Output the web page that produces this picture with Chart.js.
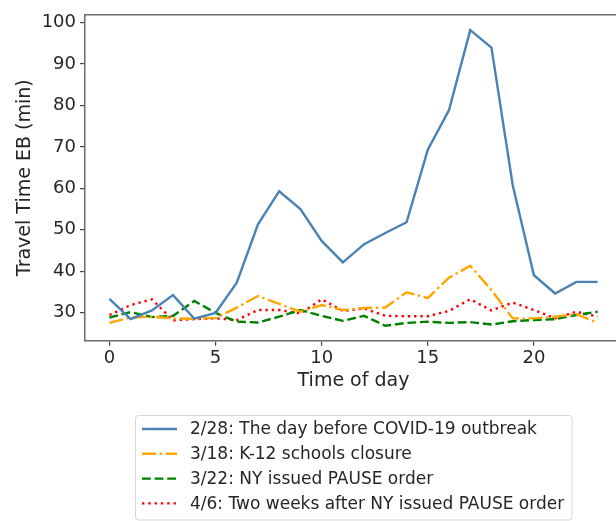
<!DOCTYPE html>
<html>
<head>
<meta charset="utf-8">
<script src="https://cdn.jsdelivr.net/npm/chart.js@4"></script>
<style>
  html, body { margin: 0; padding: 0; background: #fff; }
  #wrap { width: 616px; height: 521px; overflow: hidden; position: relative; }
  canvas { display: block; }
</style>
</head>
<body>
<div id="wrap"><canvas id="c" width="640" height="521"></canvas></div>
<script>
// ── DATA ──────────────────────────────────────────────────────────────────────
const hours = [0, 1, 2, 3, 4, 5, 6, 7, 8, 9, 10, 11, 12, 13, 14, 15, 16, 17, 18, 19, 20, 21, 22, 23];

const feb28 = [33.3, 28.4, 30.5, 34.2, 28.5, 29.9, 37.2, 51.3, 59.3, 55.0, 47.3, 42.1,
               46.5, 49.2, 51.8, 69.3, 78.9, 98.2, 94.0, 60.8, 39.0, 34.6, 37.4, 37.4];
const mar18 = [27.5, 28.8, 29.0, 28.6, 28.5, 28.7, 31.2, 34.0, 32.1, 30.2, 31.8, 30.6,
               31.1, 31.2, 34.9, 33.5, 38.4, 41.3, 35.4, 28.6, 28.6, 29.0, 29.6, 27.5];
const mar22 = [28.8, 30.1, 28.9, 29.2, 32.8, 29.9, 27.8, 27.6, 29.0, 30.6, 29.2, 28.0,
               29.2, 26.8, 27.5, 27.8, 27.5, 27.7, 27.1, 27.9, 28.2, 28.4, 29.4, 30.2];
const apr6  = [29.4, 31.8, 33.2, 28.1, 28.4, 28.6, 28.2, 30.6, 30.6, 29.8, 33.2, 30.4,
               31.0, 29.2, 29.1, 29.1, 30.4, 33.2, 30.5, 32.4, 30.6, 28.6, 30.2, 29.0];

const seriesLabels = [
  '2/28: The day before COVID-19 outbreak',
  '3/18: K-12 schools closure',
  '3/22: NY issued PAUSE order',
  '4/6: Two weeks after NY issued PAUSE order',
];

const xTicks = [0, 5, 10, 15, 20];
const yTicks = [30, 40, 50, 60, 70, 80, 90, 100];
const xTitle = 'Time of day';
const yTitle = 'Travel Time EB (min)';

// ── STYLE ─────────────────────────────────────────────────────────────────────
const FONT = "'DejaVu Sans', sans-serif";
const INK  = '#262626';
const LW   = 2.4;

const toPts = arr => arr.map((v, i) => ({ x: hours[i], y: v }));

const mkSet = (label, data, color, dash) => ({
  label, data: toPts(data),
  borderColor: color, backgroundColor: color,
  borderWidth: LW, borderDash: dash, borderCapStyle: 'butt',
  pointRadius: 0, tension: 0, fill: false,
});

const datasets = [
  mkSet(seriesLabels[0], feb28, '#4a82b4', []),
  mkSet(seriesLabels[1], mar18, '#ffa500', [14, 3.6, 2.4, 3.6]),
  mkSet(seriesLabels[2], mar22, '#008000', [8.8, 3.8]),
  mkSet(seriesLabels[3], apr6,  '#ff0000', [2.4, 3.9]),
];

// frame (top/right spines), axis titles, legend box
const decorPlugin = {
  id: 'decor',
  afterDraw(chart) {
    const { ctx, chartArea: { left, right, top, bottom } } = chart;
    ctx.save();
    ctx.strokeStyle = '#6b6b6b';
    ctx.lineWidth = 1.5;
    ctx.beginPath();
    ctx.moveTo(left, top); ctx.lineTo(right, top); ctx.lineTo(right, bottom);
    ctx.stroke();

    // axis titles (centred on the axes box, which runs past the crop)
    ctx.fillStyle = INK;
    ctx.font = `19px ${FONT}`;
    ctx.textAlign = 'center';
    ctx.textBaseline = 'middle';
    ctx.fillText(xTitle, (left + right) / 2, 381);
    ctx.save();
    ctx.translate(25, (top + bottom) / 2);
    ctx.rotate(-Math.PI / 2);
    ctx.fillText(yTitle, 0, 0);
    ctx.restore();

    // legend
    const bx = 135.5, by = 415.5, bw = 436.5, bh = 104.5, r = 3;
    ctx.beginPath();
    ctx.moveTo(bx + r, by);
    ctx.arcTo(bx + bw, by, bx + bw, by + bh, r);
    ctx.arcTo(bx + bw, by + bh, bx, by + bh, r);
    ctx.arcTo(bx, by + bh, bx, by, r);
    ctx.arcTo(bx, by, bx + bw, by, r);
    ctx.closePath();
    ctx.fillStyle = 'rgba(255,255,255,0.8)';
    ctx.fill();
    ctx.strokeStyle = '#d6d6d6';
    ctx.lineWidth = 1;
    ctx.stroke();

    ctx.font = `17px ${FONT}`;
    ctx.textAlign = 'left';
    chart.data.datasets.forEach((ds, i) => {
      const y = 429 + i * 24.8;
      ctx.strokeStyle = ds.borderColor;
      ctx.lineWidth = LW;
      ctx.lineCap = 'butt';
      ctx.setLineDash(ds.borderDash);
      ctx.beginPath();
      ctx.moveTo(142, y); ctx.lineTo(177, y);
      ctx.stroke();
      ctx.setLineDash([]);
      ctx.fillStyle = INK;
      ctx.fillText(ds.label, 190, y + 1);
    });
    ctx.restore();
  }
};

const axisGrid = { drawOnChartArea: false, drawTicks: true, tickLength: 5, color: '#444', lineWidth: 1.2 };
const axisBorder = { display: true, color: '#6b6b6b', width: 1.5 };

new Chart(document.getElementById('c'), {
  type: 'line',
  data: { datasets },
  options: {
    responsive: false,
    animation: false,
    devicePixelRatio: 1,
    layout: { padding: { top: 14, right: 18, left: 0, bottom: 0 } },
    plugins: { legend: { display: false }, tooltip: { enabled: false } },
    scales: {
      x: {
        type: 'linear', min: -1.15, max: 24.15,
        afterBuildTicks: s => { s.ticks = xTicks.map(v => ({ value: v })); },
        afterFit: s => { s.height = 180.3; },
        ticks: { font: { family: FONT, size: 18 }, color: INK, padding: 1.5, maxRotation: 0, autoSkip: false },
        grid: axisGrid, border: axisBorder,
      },
      y: {
        type: 'linear', min: 23.2, max: 101.9,
        afterBuildTicks: s => { s.ticks = yTicks.map(v => ({ value: v })); },
        afterFit: s => { s.width = 85; },
        ticks: { font: { family: FONT, size: 18 }, color: INK, padding: 4, autoSkip: false },
        grid: axisGrid, border: axisBorder,
      },
    },
  },
  plugins: [decorPlugin],
});
</script>
</body>
</html>
